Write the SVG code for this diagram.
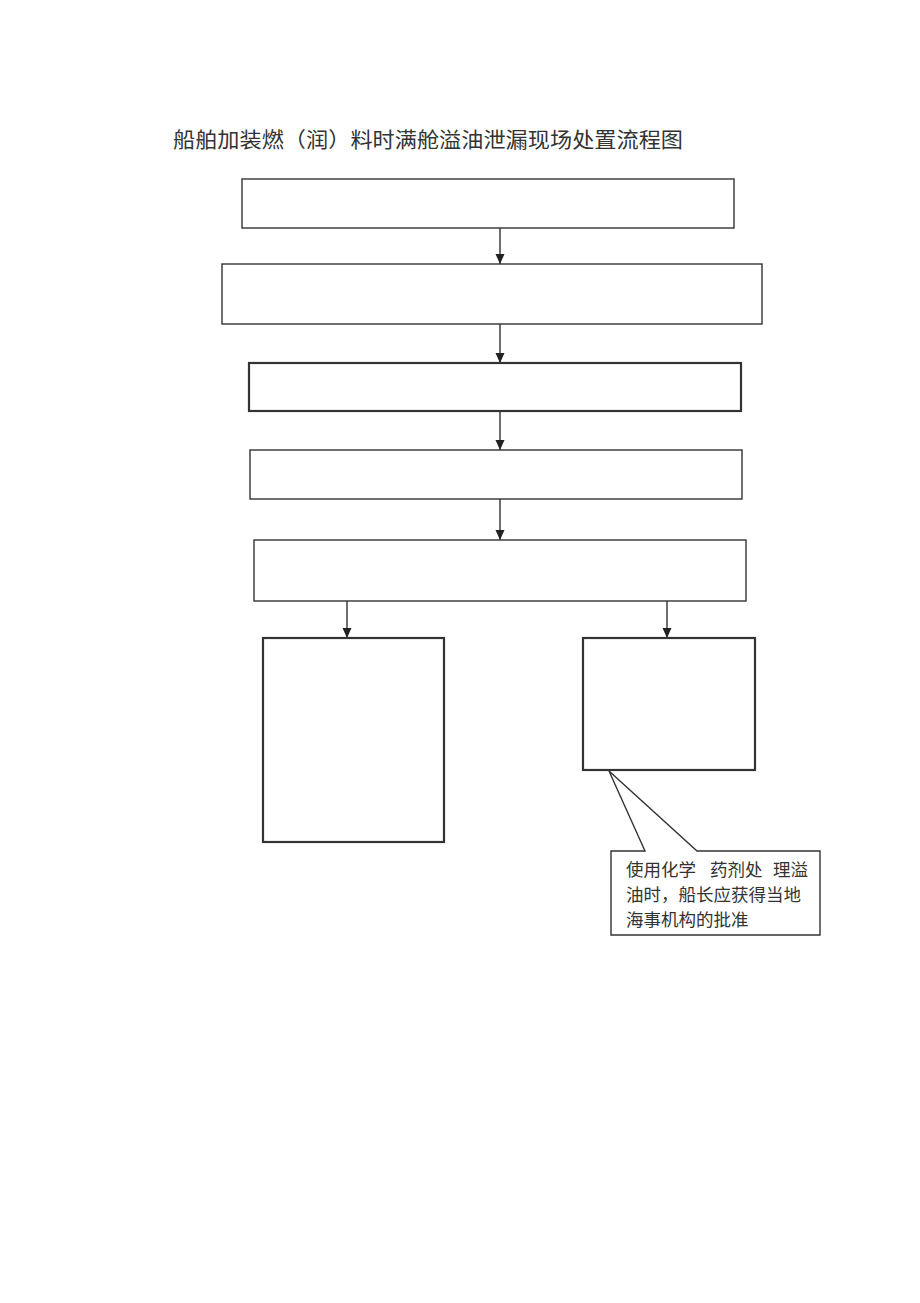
<svg xmlns="http://www.w3.org/2000/svg" width="920" height="1303" viewBox="0 0 920 1303">
<style>
.box{fill:#fff;stroke:#333;stroke-width:1.4}
.thick{stroke-width:2.2}
.con{stroke:#333;stroke-width:1.4;fill:none}
.t{font-family:"Noto Sans CJK SC","Liberation Sans",sans-serif;fill:#333}
</style>
<defs>
<marker id="ah" viewBox="0 0 10 10" refX="10" refY="5" markerWidth="10" markerHeight="10" markerUnits="userSpaceOnUse" orient="auto">
<path d="M0,0.5 L10,5 L0,9.5 z" fill="#222"/>
</marker>
</defs>
<rect width="920" height="1303" fill="#fff"/>
<text class="t" x="173" y="147" font-size="21" textLength="510" lengthAdjust="spacingAndGlyphs" fill="#222">船舶加装燃（润）料时满舱溢油泄漏现场处置流程图</text>
<g id="connectors">
<line class="con" x1="500" y1="228" x2="500" y2="264" marker-end="url(#ah)"/>
<line class="con" x1="500" y1="324" x2="500" y2="363" marker-end="url(#ah)"/>
<line class="con" x1="500" y1="411" x2="500" y2="450" marker-end="url(#ah)"/>
<line class="con" x1="500" y1="499" x2="500" y2="540" marker-end="url(#ah)"/>
<line class="con" x1="347" y1="601" x2="347" y2="638" marker-end="url(#ah)"/>
<line class="con" x1="667" y1="601" x2="667" y2="638" marker-end="url(#ah)"/>
</g>
<g id="n1"><rect class="box" x="242" y="179" width="492" height="49"/></g>
<g id="n2"><rect class="box" x="222" y="264" width="540" height="60"/></g>
<g id="n3"><rect class="box thick" x="249" y="363" width="492" height="48"/></g>
<g id="n4"><rect class="box" x="250" y="450" width="492" height="49"/></g>
<g id="n5"><rect class="box" x="254" y="540" width="492" height="61"/></g>
<g id="n6"><rect class="box thick" x="263" y="638" width="181" height="204"/></g>
<g id="n7"><rect class="box thick" x="583" y="638" width="172" height="132"/></g>
<g id="callout">
<path class="box" d="M611,851 L645,851 L609,771 L697,851 L820,851 L820,935 L611,935 Z"/>
<text class="t" font-size="17.5"><tspan x="626" y="876">使用化学</tspan><tspan x="710" y="876">药剂处</tspan><tspan x="773" y="876">理溢</tspan></text>
<text class="t" font-size="17.5" x="626" y="901">油时，船长应获得当地</text>
<text class="t" font-size="17.5" x="626" y="926">海事机构的批准</text>
</g>
</svg>
